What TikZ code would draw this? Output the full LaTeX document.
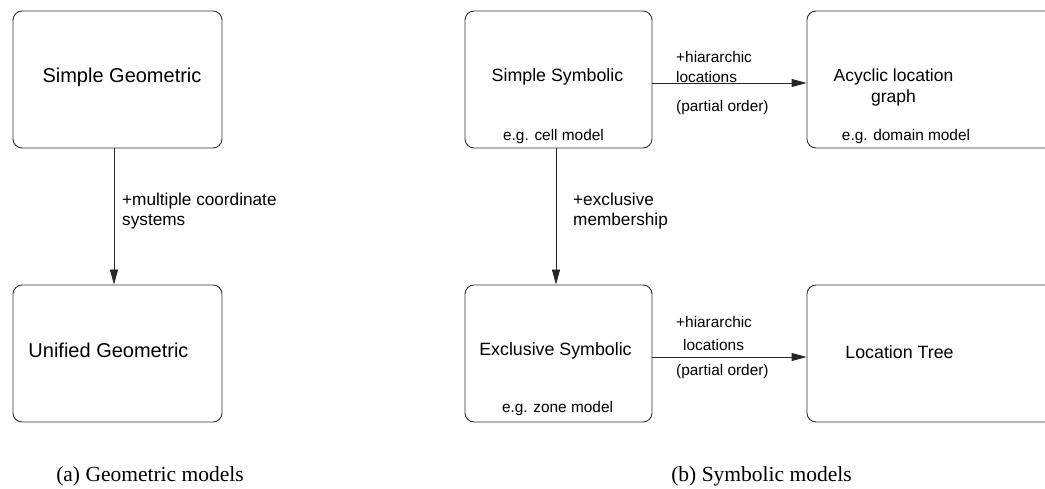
\documentclass[tikz,border=0pt]{standalone}
\usepackage{fontspec}
\setmainfont{Liberation Sans}
\newfontfamily\capfont{Liberation Serif}
\usetikzlibrary{arrows.meta}
\begin{document}
\begin{tikzpicture}[x=1pt,y=-1pt,
  model/.style={draw=black!80,line width=0.9pt,rounded corners=9pt,inner sep=0pt},
  txt/.style={inner sep=0pt,text=black},
  big/.style={txt,font=\fontsize{20}{24}\selectfont},
  mid/.style={txt,font=\fontsize{17.8}{21}\selectfont},
  small/.style={txt,font=\fontsize{15.4}{18}\selectfont},
  edgelbl/.style={txt,anchor=west,align=left,font=\fontsize{17.2}{20}\selectfont},
  caption/.style={txt,font=\capfont\fontsize{21.5}{25}\selectfont},
  arr/.style={draw=black!85,line width=0.9pt,-{Triangle[length=15pt,width=8pt]}}]
\useasboundingbox (0,0) rectangle (1045,489);
\clip (0,0) rectangle (1045,489);

% geometric models
\node[model,minimum width=209pt,minimum height=137pt] (sg) at (117.5,79.5) {};
\node[model,minimum width=209pt,minimum height=137pt] (ug) at (117.5,353.5) {};
\node[big] (sgl) at (122,77) {Simple Geometric};
\node[big] (ugl) at (108.5,350) {Unified Geometric};
\draw[arr] ([xshift=-3.5pt]sg.south) -- ([xshift=-3.5pt]ug.north);
\node[edgelbl] (mcs) at (122,211) {+multiple coordinate\\systems};

% symbolic models
\node[model,minimum width=187pt,minimum height=137pt] (ss) at (558.5,79.5) {};
\node[model,minimum width=187pt,minimum height=137pt] (es) at (558.5,353.5) {};
\node[model,minimum width=253pt,minimum height=137pt] (alg) at (933.5,79.5) {};
\node[model,minimum width=253pt,minimum height=137pt] (lt) at (933.5,353.5) {};

\node[mid] (ssl) at (557.5,77) {Simple Symbolic};
\node[small] (ssx) at (553.5,137) {e.g. cell model};
\node[mid] (esl) at (555.5,351) {Exclusive Symbolic};
\node[small] (esx) at (557.5,409) {e.g. zone model};
\node[mid,align=center,font=\fontsize{17.5}{21}\selectfont] (algl) at (893.5,87.5) {Acyclic location\\graph};
\node[small] (algx) at (906,137) {e.g. domain model};
\node[mid] (ltl) at (899.5,352) {Location Tree};

\draw[arr] ([xshift=-2.5pt]ss.south) -- ([xshift=-2.5pt]es.north);
\node[edgelbl] (exm) at (573,211) {+exclusive\\membership};

\draw[arr] ([yshift=-3.5pt]ss.east) -- ([yshift=-3.5pt]alg.west);
\node[small,anchor=west] (h1) at (676,57) {+hiararchic};
\node[small,anchor=west] (l1) at (676,77) {locations};
\node[small,anchor=west] (p1) at (676,108) {(partial order)};

\draw[arr] ([yshift=-3.5pt]es.east) -- ([yshift=-3.5pt]lt.west);
\node[small,anchor=west] (h2) at (676,322) {+hiararchic};
\node[small,anchor=west] (l2) at (683,345) {locations};
\node[small,anchor=west] (p2) at (676,372) {(partial order)};

% captions
\node[caption] (capa) at (150,476) {(a) Geometric models};
\node[caption] (capb) at (761.5,476) {(b) Symbolic models};
\end{tikzpicture}
\end{document}
